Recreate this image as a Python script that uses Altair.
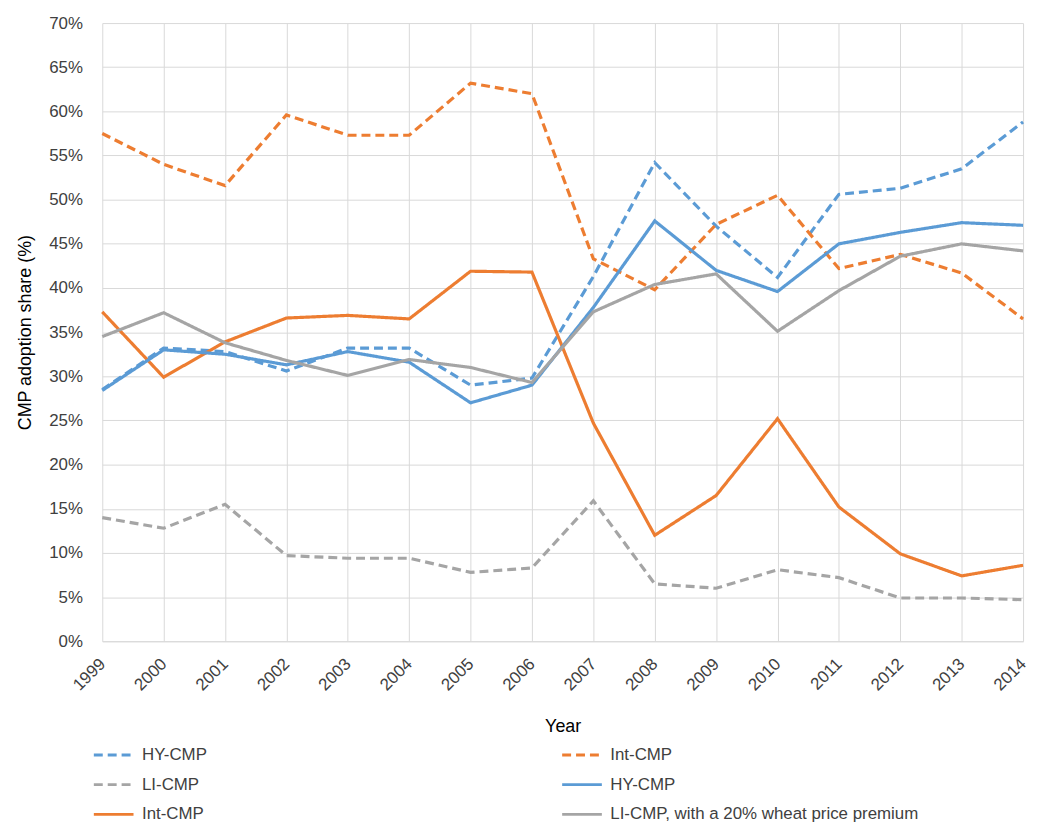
import altair as alt
import pandas as pd

years = list(range(1999, 2015))

hy_dash = [28.5, 33.2, 32.8, 30.6, 33.2, 33.2, 29.0, 29.8, 41.3, 54.2, 47.0, 41.2, 50.6, 51.3, 53.5, 58.8]
int_dash = [57.5, 54.0, 51.6, 59.6, 57.3, 57.3, 63.2, 62.0, 43.3, 39.8, 47.2, 50.5, 42.2, 43.8, 41.7, 36.5]
li_dash = [14.0, 12.8, 15.5, 9.7, 9.4, 9.4, 7.8, 8.3, 15.9, 6.5, 6.0, 8.1, 7.2, 4.9, 4.9, 4.7]
hy_solid = [28.4, 33.0, 32.5, 31.3, 32.8, 31.6, 27.0, 29.0, 37.8, 47.6, 42.0, 39.6, 45.0, 46.3, 47.4, 47.1]
int_solid = [37.3, 29.9, 33.9, 36.6, 36.9, 36.5, 41.9, 41.8, 24.7, 12.0, 16.5, 25.2, 15.2, 9.9, 7.4, 8.6]
li_prem = [34.5, 37.2, 33.8, 31.8, 30.1, 31.9, 31.0, 29.3, 37.3, 40.4, 41.6, 35.1, 39.7, 43.6, 45.0, 44.2]

y_ticks = [0, 0.05, 0.10, 0.15, 0.20, 0.25, 0.30, 0.35, 0.40, 0.45, 0.50, 0.55, 0.60, 0.65, 0.70]

# legend is laid out column by column: left column first, then right column
series_keys = ["s1", "s2", "s3", "s4", "s5", "s6"]
series_labels = ["HY-CMP", "LI-CMP", "Int-CMP", "Int-CMP", "HY-CMP",
                 "LI-CMP, with a 20% wheat price premium"]
series_values = [hy_dash, li_dash, int_solid, int_dash, hy_solid, li_prem]
series_colors = ["#5B9BD5", "#A5A5A5", "#ED7D31", "#ED7D31", "#5B9BD5", "#A5A5A5"]
series_dashes = [[9, 5], [9, 5], [1, 0], [9, 5], [1, 0], [1, 0]]

rows = []
for k, vals in zip(series_keys, series_values):
    for y, v in zip(years, vals):
        rows.append({"year": y, "series": k, "share": v / 100.0})
df = pd.DataFrame(rows)

label_expr = " : ".join(
    [f"datum.value == '{k}' ? '{l}'" for k, l in zip(series_keys, series_labels)]
) + " : ''"

FONT = "Liberation Sans, Arial, sans-serif"

legend = alt.Legend(
    title=None,
    orient="none",
    legendX=-10,
    legendY=716,
    columns=2,
    columnPadding=351,
    rowPadding=0,
    symbolType="stroke",
    symbolSize=1600,
    symbolStrokeWidth=3,
    labelOffset=7,
    labelFont=FONT,
    labelFontSize=17,
    labelColor="#404040",
    labelExpr=label_expr,
    labelLimit=400,
)

chart = alt.Chart(df).mark_line(strokeWidth=3.2).encode(
    x=alt.X(
        "year:Q",
        scale=alt.Scale(domain=[1999, 2014], nice=False, zero=False),
        axis=alt.Axis(
            values=years,
            format="d",
            labelAngle=-45,
            labelAlign="right",
            labelBaseline="middle",
            labelPadding=20,
            ticks=False,
            domain=True,
            domainColor="#d9d9d9",
            grid=True,
            gridColor="#d9d9d9",
            title="Year",
            titlePadding=25,
        ),
    ),
    y=alt.Y(
        "share:Q",
        scale=alt.Scale(domain=[0, 0.7], nice=False),
        axis=alt.Axis(
            values=y_ticks,
            format=".0%",
            ticks=False,
            domain=False,
            grid=True,
            gridColor="#d9d9d9",
            title="CMP adoption share (%)",
            titlePadding=14,
            labelPadding=20,
        ),
    ),
    color=alt.Color(
        "series:N",
        scale=alt.Scale(domain=series_keys, range=series_colors),
        legend=legend,
    ),
    strokeDash=alt.StrokeDash(
        "series:N",
        scale=alt.Scale(domain=series_keys, range=series_dashes),
        legend=legend,
    ),
    order=alt.Order("year:Q"),
).properties(
    width=928,
    height=623,
    autosize=alt.AutoSizeParams(type="none"),
    padding={"left": 95, "top": 12, "right": 7, "bottom": 182},
).configure_axis(
    labelFont=FONT,
    labelFontSize=17,
    labelColor="#404040",
    titleFont=FONT,
    titleFontSize=18,
    titleFontWeight="normal",
    titleColor="#000000",
).configure_view(stroke=None)

chart.save("out.html", embed_options={"renderer": "svg", "actions": False})
